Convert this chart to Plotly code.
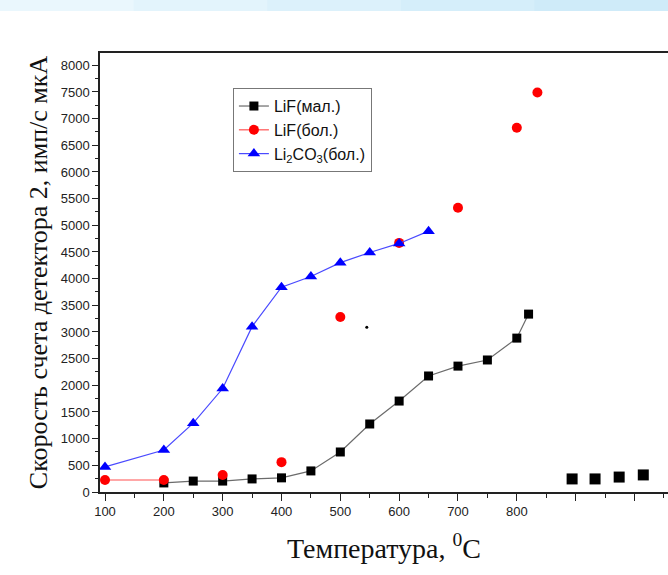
import plotly.graph_objects as go

# LiF (мал.) — black squares joined by a line
lif_small_t = [200, 250, 300, 350, 400, 450, 500, 550, 600, 650, 700, 750, 800, 820]
lif_small_v = [170, 205, 205, 245, 265, 395, 750, 1275, 1705, 2175, 2360, 2475, 2885, 3335]

# Separate LiF (мал.) points at the high-temperature end (markers only)
lif_small_extra_t = [894, 933, 974, 1015]
lif_small_extra_v = [245, 245, 280, 320]

# LiF (бол.) — red circles; only the first two are joined
lif_big_t = [100, 200, 300, 400, 500, 600, 700, 800, 835]
lif_big_v = [225, 225, 320, 560, 3280, 4670, 5330, 6830, 7490]

# Li2CO3 (бол.) — blue triangles joined by a line
li2co3_t = [100, 200, 250, 300, 350, 400, 450, 500, 550, 600, 650]
li2co3_v = [470, 787, 1290, 1940, 3100, 3840, 4040, 4300, 4490, 4660, 4890]

# Stray point
dot_t = [545]
dot_v = [3090]

x_ticks = [100, 200, 300, 400, 500, 600, 700, 800, 900, 1000]
x_tick_text = ["100", "200", "300", "400", "500", "600", "700", "800", "", ""]

red_line = dict(color="#ff5050", width=1.2)

fig = go.Figure()

fig.add_trace(go.Scatter(
    x=lif_small_t, y=lif_small_v, mode="lines+markers", name="LiF(мал.)",
    line=dict(color="#6b6b6b", width=1.2),
    marker=dict(symbol="square", size=9, color="black"),
))
fig.add_trace(go.Scatter(
    x=lif_small_extra_t, y=lif_small_extra_v, mode="markers", showlegend=False,
    marker=dict(symbol="square", size=11, color="black"),
))
fig.add_trace(go.Scatter(
    x=lif_big_t[:2], y=lif_big_v[:2], mode="lines", showlegend=False,
    line=red_line,
))
fig.add_trace(go.Scatter(
    x=lif_big_t, y=lif_big_v, mode="markers", showlegend=False,
    marker=dict(symbol="circle", size=10, color="#ff0000"),
))
# legend entry for the red series (line + symbol)
fig.add_trace(go.Scatter(
    x=[None], y=[None], mode="lines+markers", name="LiF(бол.)",
    line=red_line, marker=dict(symbol="circle", size=10, color="#ff0000"),
))
fig.add_trace(go.Scatter(
    x=li2co3_t, y=li2co3_v, mode="lines+markers", name="Li<sub>2</sub>CO<sub>3</sub>(бол.)",
    line=dict(color="#4a4aff", width=1.2),
    marker=dict(symbol="triangle-up", size=11, color="#0000ff"),
))
fig.add_trace(go.Scatter(
    x=dot_t, y=dot_v, mode="markers", showlegend=False,
    marker=dict(symbol="circle", size=3, color="black"),
))

# light blue band across the top of the page
band_colors = ["#eaf7fd", "#e3f4fc", "#dcf1fb", "#d5eefa", "#cfebf9"]
n = len(band_colors)
for i, c in enumerate(band_colors):
    fig.add_shape(type="rect", xref="paper", yref="paper",
                  x0=-100 / 568 + i * (668 / 568) / n,
                  x1=-100 / 568 + (i + 1) * (668 / 568) / n + 0.002,
                  y0=1 + 42 / 439, y1=1 + 53 / 439,
                  fillcolor=c, line=dict(width=0), layer="below")

tick_font = dict(family="Liberation Sans, Arial, sans-serif", size=13, color="#222")
serif = "Liberation Serif, Times New Roman, serif"

fig.update_layout(
    width=668, height=575,
    margin=dict(l=100, r=0, t=53, b=83),
    paper_bgcolor="white", plot_bgcolor="white",
    showlegend=True,
    legend=dict(
        x=0.234, y=0.92, xanchor="left", yanchor="top",
        bgcolor="white", bordercolor="#777", borderwidth=1,
        font=dict(family="Liberation Sans, Arial, sans-serif", size=16, color="#111"),
        itemwidth=30, tracegroupgap=0,
    ),
    xaxis=dict(
        range=[91.5, 1057], showgrid=False, zeroline=False,
        showline=True, linecolor="#222", linewidth=1.5, mirror=True,
        ticks="outside", ticklen=7, tickwidth=1.2, tickcolor="#222",
        tickvals=x_ticks, ticktext=x_tick_text, tickfont=tick_font,
        minor=dict(dtick=50, tick0=0, ticks="outside", ticklen=4, tickwidth=1.2, tickcolor="#222"),
        title=dict(text="Температура, <sup>0</sup>C",
                   font=dict(family=serif, size=28, color="#111"), standoff=20),
    ),
    yaxis=dict(
        range=[0, 8230], showgrid=False, zeroline=False,
        showline=True, linecolor="#222", linewidth=1.5,
        ticks="outside", ticklen=6, tickwidth=1.2, tickcolor="#222",
        dtick=500, tick0=0, tickfont=tick_font,
        minor=dict(dtick=250, tick0=0, ticks="outside", ticklen=3, tickwidth=1.2, tickcolor="#222"),
        title=dict(text="Скорость счета детектора 2, имп/с мкА",
                   font=dict(family=serif, size=26, color="#111"), standoff=6),
    ),
)

fig.write_html("out.html")
